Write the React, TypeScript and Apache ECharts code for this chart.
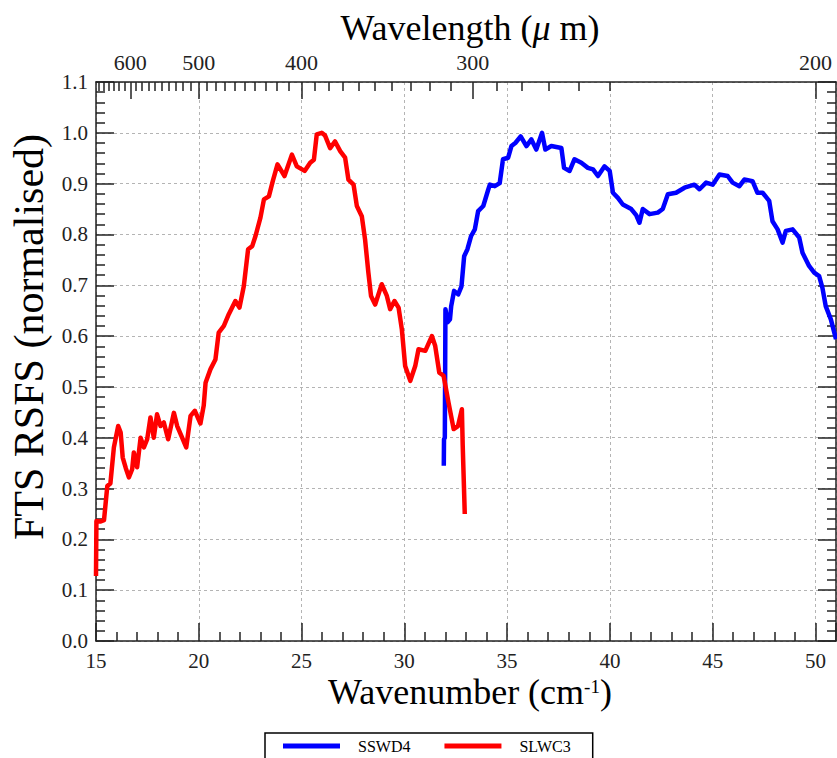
import React, { useEffect, useRef } from 'react';
import * as echarts from 'echarts';

// SLWC3 (red) spectral response, wavenumber in cm^-1
const slwc3Wavenumber = [
  15.0, 15.02, 15.2, 15.39, 15.55, 15.7, 15.87, 16.08, 16.2, 16.3, 16.45, 16.6, 16.76, 16.84, 17.0,
  17.17, 17.33, 17.49, 17.65, 17.81, 17.97, 18.14, 18.3, 18.51, 18.79, 18.95, 19.19, 19.39, 19.6,
  19.81, 20.08, 20.24, 20.33, 20.57, 20.81, 20.97, 21.22, 21.46, 21.78, 21.98, 22.19, 22.4, 22.6,
  22.76, 23.0, 23.17, 23.41, 23.6, 23.83, 24.17, 24.53, 24.77, 25.15, 25.42, 25.6, 25.74, 25.98,
  26.14, 26.39, 26.63, 26.88, 27.12, 27.28, 27.53, 27.69, 27.93, 28.09, 28.25, 28.38, 28.58, 28.9,
  29.15, 29.31, 29.52, 29.72, 29.88, 30.04, 30.29, 30.53, 30.69, 31.02, 31.34, 31.5, 31.7, 31.91,
  32.15, 32.4, 32.61, 32.8, 32.84, 32.94,
];
const slwc3Response = [
  0.128, 0.236, 0.235, 0.238, 0.305, 0.31, 0.381, 0.423, 0.41, 0.361, 0.34, 0.322, 0.338, 0.371, 0.342,
  0.4, 0.381, 0.397, 0.44, 0.4, 0.446, 0.423, 0.43, 0.397, 0.449, 0.423, 0.4, 0.381, 0.443,
  0.453, 0.428, 0.463, 0.508, 0.535, 0.554, 0.607, 0.62, 0.643, 0.669, 0.656, 0.698, 0.771, 0.777,
  0.797, 0.833, 0.869, 0.875, 0.905, 0.938, 0.915, 0.957, 0.934, 0.925, 0.941, 0.947, 0.997, 1.0,
  0.995, 0.97, 0.983, 0.964, 0.951, 0.908, 0.898, 0.856, 0.836, 0.79, 0.725, 0.679, 0.662, 0.702,
  0.679, 0.653, 0.669, 0.656, 0.613, 0.541, 0.512, 0.541, 0.574, 0.571, 0.6, 0.581, 0.528, 0.522,
  0.469, 0.417, 0.423, 0.456, 0.385, 0.25,
];

// SSWD4 (blue) spectral response
const sswd4Wavenumber = [
  31.92, 31.93, 31.97, 32.0, 32.1, 32.22, 32.28, 32.42, 32.62, 32.78, 32.91, 33.07, 33.25, 33.43,
  33.59, 33.84, 34.08, 34.16, 34.4, 34.64, 34.8, 35.05, 35.21, 35.4, 35.66, 35.94, 36.18, 36.42,
  36.7, 36.86, 37.15, 37.64, 37.77, 38.04, 38.28, 38.61, 38.93, 39.18, 39.42, 39.74, 39.99, 40.15,
  40.39, 40.63, 41.04, 41.28, 41.44, 41.6, 41.93, 42.33, 42.57, 42.82, 43.22, 43.63, 44.11, 44.36,
  44.68, 45.0, 45.33, 45.73, 45.97, 46.3, 46.54, 46.94, 47.18, 47.43, 47.75, 47.91, 48.16, 48.4,
  48.56, 48.89, 49.21, 49.37, 49.69, 49.94, 50.18, 50.34, 50.5, 50.75, 51.0,
];
const sswd4Response = [
  0.345, 0.397, 0.4, 0.653, 0.627, 0.633, 0.659, 0.689, 0.682, 0.698, 0.757, 0.771, 0.797, 0.81,
  0.846, 0.856, 0.888, 0.898, 0.895, 0.901, 0.948, 0.951, 0.974, 0.98, 0.993, 0.974, 0.987, 0.967,
  1.0, 0.967, 0.974, 0.97, 0.931, 0.925, 0.948, 0.941, 0.931, 0.928, 0.915, 0.934, 0.925, 0.882,
  0.872, 0.859, 0.85, 0.838, 0.823, 0.85, 0.84, 0.843, 0.85, 0.879, 0.882, 0.892, 0.898, 0.889,
  0.902, 0.898, 0.918, 0.915, 0.902, 0.895, 0.908, 0.905, 0.882, 0.882, 0.866, 0.826, 0.81, 0.784,
  0.807, 0.81, 0.794, 0.764, 0.738, 0.725, 0.718, 0.695, 0.659, 0.633, 0.594,
];

// Top axis: wavelength in micrometres
const wavelengthMajor = [600, 500, 400, 300, 200];
const wavelengthMinor = [
  660, 650, 640, 630, 620, 610, 590, 580, 570, 560, 550, 540, 530, 520, 510,
  490, 480, 470, 460, 450, 440, 430, 420, 410, 390, 380, 370, 360, 350, 340, 330, 320, 310,
  290, 280, 270, 260, 250,
];

const seriesNames = ['SSWD4', 'SLWC3'];

export default function App() {
  const ref = useRef<HTMLDivElement>(null);
  useEffect(() => {
    document.body.style.margin = '0';
    const chart = echarts.init(ref.current!, null, { renderer: 'svg' });
    const serif = "'Liberation Serif', 'Times New Roman', serif";
    const axisColor = '#222';
    const lineW = 1.5;
    const axisLine = { show: true, onZero: false, lineStyle: { color: axisColor, width: lineW } };
    const tickStyle = { color: axisColor, width: lineW };
    const grid = { show: true, lineStyle: { color: '#b4b4b4', type: [3, 3], width: 1 } };
    const toSigma = (l: number) => 10000 / l;

    const zip = (xs: number[], ys: number[]) => xs.map((x, i) => [x, ys[i]]);

    chart.setOption({
      animation: false,
      grid: { left: 96, right: 1, top: 82, bottom: 117, containLabel: false },
      xAxis: [
        {
          type: 'value', min: 15, max: 51, interval: 5, position: 'bottom',
          axisLine,
          axisTick: { show: true, inside: true, length: 18, lineStyle: tickStyle },
          minorTick: { show: true, splitNumber: 5, length: 9, lineStyle: tickStyle },
          axisLabel: { fontFamily: serif, fontSize: 21, lineHeight: 21, color: '#222', margin: 9, showMaxLabel: false },
          splitLine: grid,
        },
        {
          type: 'value', min: 15, max: 51, position: 'top',
          axisLine,
          axisTick: { show: true, inside: true, length: 17, lineStyle: tickStyle, customValues: wavelengthMajor.map(toSigma) },
          axisLabel: {
            show: true, fontFamily: serif, fontSize: 22, color: '#222', margin: 9,
            customValues: wavelengthMajor.map(toSigma),
            formatter: (v: number) => String(Math.round(10000 / v)),
          },
          splitLine: { show: false },
        },
        {
          type: 'value', min: 15, max: 51, position: 'top',
          axisLine: { show: false, onZero: false },
          axisTick: { show: true, inside: true, length: 9, lineStyle: tickStyle, customValues: wavelengthMinor.map(toSigma) },
          axisLabel: { show: false },
          splitLine: { show: false },
        },
      ],
      yAxis: [
        {
          type: 'value', min: 0, max: 1.1, interval: 0.1, position: 'left',
          axisLine,
          axisTick: { show: true, inside: true, length: 18, lineStyle: tickStyle },
          minorTick: { show: true, splitNumber: 5, length: 9, lineStyle: tickStyle },
          axisLabel: { fontFamily: serif, fontSize: 21, color: '#222', margin: 8, formatter: (v: number) => v.toFixed(1) },
          splitLine: grid,
        },
        {
          type: 'value', min: 0, max: 1.1, interval: 0.1, position: 'right',
          axisLine,
          axisTick: { show: true, inside: true, length: 18, lineStyle: tickStyle },
          minorTick: { show: true, splitNumber: 5, length: 9, lineStyle: tickStyle },
          axisLabel: { show: false },
          splitLine: { show: false },
        },
      ],
      legend: {
        data: seriesNames,
        left: 265, top: 733,
        orient: 'horizontal',
        icon: 'rect', itemWidth: 57, itemHeight: 5, itemGap: 34,
        borderColor: '#000', borderWidth: 1.5, borderRadius: 0,
        padding: [5, 22, 5, 18],
        textStyle: { fontFamily: serif, fontSize: 16, color: '#000', padding: [0, 0, 0, 13] },
      },
      series: [
        {
          name: seriesNames[0], type: 'line', xAxisIndex: 0, yAxisIndex: 0,
          data: zip(sswd4Wavenumber, sswd4Response),
          showSymbol: false, symbol: 'none', color: '#0000ff',
          lineStyle: { color: '#0000ff', width: 4.5, join: 'round' },
          z: 3,
        },
        {
          name: seriesNames[1], type: 'line', xAxisIndex: 0, yAxisIndex: 0,
          data: zip(slwc3Wavenumber, slwc3Response),
          showSymbol: false, symbol: 'none', color: '#ff0000',
          lineStyle: { color: '#ff0000', width: 4.5, join: 'round' },
          z: 4,
        },
      ],
      graphic: [
        {
          type: 'text', x: 470, y: 28,
          style: {
            text: '{a|Wavelength (}{b|μ}{a| m)}',
            textAlign: 'center', textVerticalAlign: 'middle',
            rich: {
              a: { fontFamily: serif, fontSize: 36, lineHeight: 34, fill: '#000' },
              b: { fontFamily: serif, fontSize: 36, lineHeight: 34, fontStyle: 'italic', fill: '#000' },
            },
          },
        },
        {
          type: 'text', x: 470, y: 692,
          style: {
            text: '{a|Wavenumber (cm}{s|-1}{a|)}',
            textAlign: 'center', textVerticalAlign: 'middle',
            rich: {
              a: { fontFamily: serif, fontSize: 36, lineHeight: 30, fill: '#000' },
              s: { fontFamily: serif, fontSize: 19, lineHeight: 19, fill: '#000', verticalAlign: 'top' },
            },
          },
        },
        {
          type: 'text', x: 29, y: 337, rotation: Math.PI / 2,
          style: {
            text: 'FTS RSFS (normalised)',
            textAlign: 'center', textVerticalAlign: 'middle',
            fontFamily: serif, fontSize: 42, fill: '#000',
          },
        },
      ],
    });
    return () => chart.dispose();
  }, []);
  return <div ref={ref} style={{ position: 'absolute', left: 0, top: 0, width: 837, height: 758 }} />;
}
